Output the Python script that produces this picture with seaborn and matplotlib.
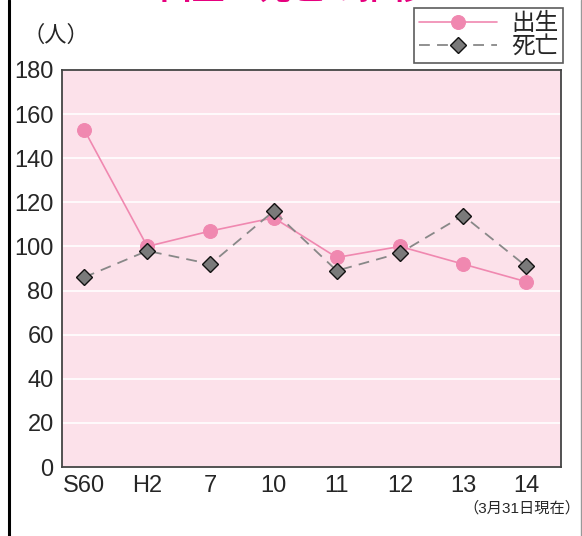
import matplotlib
matplotlib.use('Agg')
from matplotlib import pyplot as plt
import seaborn as sns
import pandas

years = ['S60', 'H2', '7', '10', '11', '12', '13', '14']
births = [153, 100, 107, 113, 95, 100, 92, 84]
deaths = [86, 98, 92, 116, 89, 97, 114, 91]

sns.set_style('white')
plt.rcParams['font.family'] = ['Liberation Sans', 'Noto Sans CJK JP']

df = pandas.DataFrame({'pos': range(len(years)), '出生': births, '死亡': deaths})

fig = plt.figure(figsize=(5.82, 5.36), dpi=100)
ax = fig.add_axes([62 / 582, 1 - 467 / 536, (561 - 62) / 582, (467 - 70) / 536])
ax.set_facecolor('#fce1ea')

sns.lineplot(data=df, x='pos', y='出生', ax=ax, color='#f088b0', lw=1.2,
             marker='o', markersize=10, markeredgecolor='#f088b0', label='出生')
sns.lineplot(data=df, x='pos', y='死亡', ax=ax, color='#888888', lw=1.3,
             linestyle=(0, (6, 4)), marker='D', markersize=8,
             markerfacecolor='#7a7a7a', markeredgecolor='#111111', markeredgewidth=1,
             label='死亡')

ax.set_xlim(-0.35, 7.55)
ax.set_ylim(0, 180)
ax.set_yticks(range(0, 181, 20))
ax.set_xticks(range(len(years)))
ax.set_xticklabels(years)
ax.grid(axis='y', color='white', lw=1.2)
ax.set_axisbelow(True)
ax.set_xlabel('')
ax.set_ylabel('')
ax.tick_params(axis='x', direction='in', length=5, width=1, color='#444444',
               labelsize=17, pad=6)
ax.tick_params(axis='y', length=0, labelsize=17, pad=6)
for s in ax.spines.values():
    s.set_color('#444444')
    s.set_linewidth(1.3)

leg = ax.legend(loc='upper right', bbox_to_anchor=(563 / 582, 1 - 8 / 536),
                bbox_transform=fig.transFigure, fontsize=17, frameon=True,
                fancybox=False, edgecolor='#333333', handlelength=3.3,
                borderpad=0.2, labelspacing=0.05, handletextpad=0.6,
                borderaxespad=0)
leg.get_frame().set_linewidth(1.2)

fig.text(292 / 582, 1 - 6 / 536, '出生・死亡の推移', color='#e6007e', fontsize=24,
         fontweight='bold', ha='center', va='bottom')
fig.text(22 / 582, 1 - 36 / 536, '（人）', fontsize=16, ha='left', va='center')
fig.text(580 / 582, 1 - 508 / 536, '（3月31日現在）', fontsize=11, ha='right', va='center')

fig.add_artist(plt.Line2D([9 / 582, 9 / 582], [0, 1], color='black', lw=2.2,
                          transform=fig.transFigure))
fig.add_artist(plt.Line2D([580.5 / 582, 580.5 / 582], [0, 1], color='#999999', lw=1,
                          transform=fig.transFigure))

fig.savefig('out.png', dpi=100)
